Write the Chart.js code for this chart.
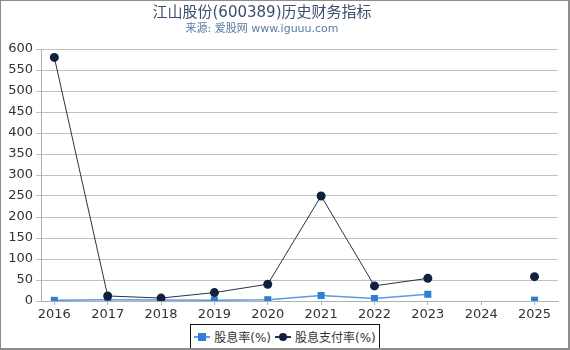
<!DOCTYPE html>
<html lang="zh">
<head>
  <meta charset="UTF-8">
  <title>江山股份(600389)历史财务指标</title>
  <style>
    * { box-sizing: border-box; }
    body { margin: 0; padding: 0; background: #fff; font-family: "DejaVu Sans", "Noto Sans CJK SC", sans-serif; }

    .chart-box {
      position: relative;
      width: 570px;
      height: 350px;
      border: 1px solid #8c8c8c;
      border-right-width: 2px;
      border-bottom-width: 2px;
      overflow: hidden;
    }

    .chart-box canvas { position: absolute; left: 0; top: 0; }

    .chart-title {
      position: absolute;
      left: 0;
      top: 1px;
      width: 522px;
      text-align: center;
      font-size: 15px;
      color: #3b4f6b;
      line-height: 20px;
      white-space: nowrap;
    }

    .chart-subtitle {
      position: absolute;
      left: 0;
      top: 20px;
      width: 522px;
      text-align: center;
      font-size: 11px;
      color: #5a7aa3;
      line-height: 16px;
      white-space: nowrap;
    }

    /* legend at the bottom, drawn as html */
    .legend {
      position: absolute;
      left: 189px;
      top: 323px;
      width: 190px;
      height: 25px;
      border: 1px solid #111;
      display: flex;
      align-items: center;
      justify-content: center;
      font-size: 12px;
      color: #333;
      background: #fff;
      white-space: nowrap;
    }
    .legend-item { display: flex; align-items: center; margin: 0 2px; }
    .legend-mark { position: relative; width: 16px; height: 10px; margin-right: 4px; }
    .legend-mark .ln { position: absolute; left: 0; right: 0; top: 4px; height: 2px; }
    .legend-mark .sq { position: absolute; left: 4px; top: 1px; width: 8px; height: 8px; }
    .legend-mark .dot { position: absolute; left: 4px; top: 1px; width: 8px; height: 8px; border-radius: 50%; }
  </style>
</head>
<body>

<div class="chart-box">
  <canvas id="finChart" width="567" height="347"></canvas>
  <div class="chart-title">江山股份(600389)历史财务指标</div>
  <div class="chart-subtitle">来源: 爱股网 www.iguuu.com</div>
  <div class="legend">
    <div class="legend-item">
      <span class="legend-mark"><span class="ln" style="background:#5c9be0"></span><span class="sq" style="background:#2f7fd8"></span></span>股息率(%)
    </div>
    <div class="legend-item">
      <span class="legend-mark"><span class="ln" style="background:#24324a"></span><span class="dot" style="background:#0f213d"></span></span>股息支付率(%)
    </div>
  </div>
</div>

<script src="https://cdn.jsdelivr.net/npm/chart.js"></script>
<script>
  // values (2024 has no data)
  const years = [2016, 2017, 2018, 2019, 2020, 2021, 2022, 2023, 2024, 2025];
  const dividendYield = [1.5, 3, 2.5, 2, 3, 13, 6, 16, null, 2];
  const payoutRatio = [580, 12, 7, 20, 40, 250, 36, 54, null, 58];

  function toPoints(values) {
    return years.map((yr, i) => ({ x: yr, y: values[i] }));
  }

  const ctx = document.getElementById('finChart').getContext('2d');
  const finChart = new Chart(ctx, {
    type: 'line',
    data: {
      datasets: [
        {
          label: '股息支付率(%)',
          data: toPoints(payoutRatio),
          borderColor: '#24324a',
          borderWidth: 1,
          pointStyle: 'circle',
          pointRadius: 4.5,
          pointBackgroundColor: '#0f213d',
          pointBorderColor: '#0f213d',
          pointBorderWidth: 0,
          tension: 0,
          spanGaps: false,
          order: 0
        },
        {
          label: '股息率(%)',
          data: toPoints(dividendYield),
          borderColor: '#5c9be0',
          borderWidth: 1.5,
          pointStyle: 'rect',
          pointRadius: 5,
          pointBackgroundColor: '#2f7fd8',
          pointBorderColor: '#2f7fd8',
          pointBorderWidth: 0,
          tension: 0,
          spanGaps: false,
          clip: { left: 10, top: 10, right: 10, bottom: 0 },
          order: 1
        }
      ]
    },
    options: {
      responsive: false,
      animation: false,
      layout: { padding: { top: 48, right: 10, bottom: 0, left: 0 } },
      plugins: {
        legend: { display: false },
        title: { display: false },
        tooltip: { enabled: false }
      },
      scales: {
        x: {
          type: 'linear',
          min: 2015.75,
          max: 2025.44,
          afterFit: (scale) => { scale.height = 47; },
          grid: { drawOnChartArea: false, drawTicks: true, tickLength: 4, color: '#b0b0b0' },
          border: { color: '#b0b0b0' },
          ticks: {
            stepSize: 1,
            includeBounds: false,
            autoSkip: false,
            maxRotation: 0,
            padding: 2,
            color: '#333',
            font: { size: 13, family: '"DejaVu Sans", sans-serif' },
            callback: (v) => String(v)
          }
        },
        y: {
          min: 0,
          max: 600,
          afterFit: (scale) => { scale.width = 40; },
          grid: { color: '#c0c0c0', tickLength: 5 },
          border: { color: '#b0b0b0' },
          ticks: {
            stepSize: 50,
            padding: 3,
            color: '#333',
            font: { size: 13, family: '"DejaVu Sans", sans-serif' }
          }
        }
      }
    }
  });
</script>

</body>
</html>
